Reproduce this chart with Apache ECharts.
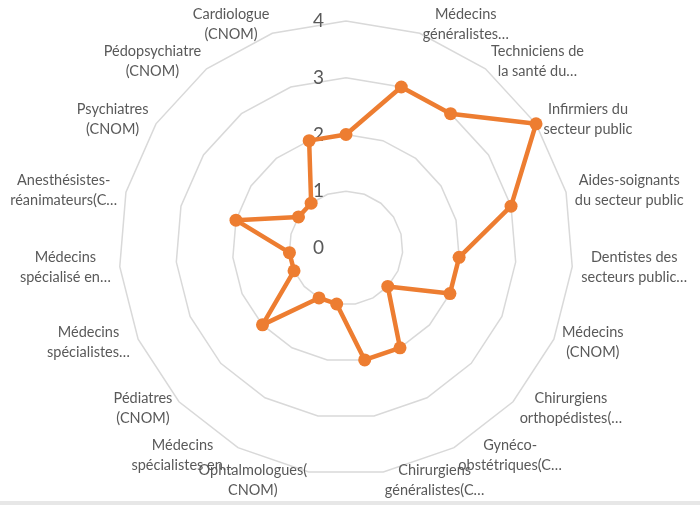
<!DOCTYPE html>
<html>
<head>
<meta charset="utf-8">
<script src="https://cdn.jsdelivr.net/npm/echarts@6/dist/echarts.min.js"></script>
<style>
  html, body { margin: 0; padding: 0; background: #ffffff; }
  #chart { width: 700px; height: 505px; }
</style>
</head>
<body>
<div id="chart"></div>
<script>
// Categories in clockwise order, starting from the top spoke
const categories = [
  '',
  'Médecins\ngénéralistes…',
  'Techniciens de\nla santé du…',
  'Infirmiers du\nsecteur public',
  'Aides-soignants\ndu secteur public',
  'Dentistes des\nsecteurs public…',
  'Médecins\n(CNOM)',
  'Chirurgiens\northopédistes(…',
  'Gynéco-\nobstétriques(C…',
  'Chirurgiens\ngénéralistes(C…',
  'Ophtalmologues(\nCNOM)',
  'Médecins\nspécialistes en…',
  'Pédiatres\n(CNOM)',
  'Médecins\nspécialistes…',
  'Médecins\nspécialisé en…',
  'Anesthésistes-\nréanimateurs(C…',
  'Psychiatres\n(CNOM)',
  'Pédopsychiatre\n(CNOM)',
  'Cardiologue\n(CNOM)'
];

// Score per category, same order as above
const values = [2, 3, 3, 4, 3, 2, 2, 1, 2, 2, 1, 1, 2, 1, 1, 2, 1, 1, 2];

// Radial scale
const axisMin = 0;
const axisMax = 4;
const tickStep = 1;

const labelFont = 'Lato, "Open Sans", sans-serif';

// ECharts lays indicators out counter-clockwise, so keep the first one on top
// and reverse the rest to read clockwise.
const order = [0].concat(categories.map((_, i) => i).slice(1).reverse());

const indicators = order.map((i, k) => {
  const ind = { name: categories[i], min: axisMin, max: axisMax };
  if (k === 0) {
    ind.axisLabel = {
      show: true,
      color: '#595959',
      fontSize: 19,
      fontFamily: labelFont,
      margin: 22
    };
  }
  return ind;
});
const seriesData = order.map(i => values[i]);

const chart = echarts.init(document.getElementById('chart'), null, { renderer: 'canvas' });

chart.setOption({
  backgroundColor: '#ffffff',
  animation: false,
  radar: {
    center: [346, 248],
    radius: 227,
    startAngle: 90,
    shape: 'polygon',
    splitNumber: (axisMax - axisMin) / tickStep,
    indicator: indicators,
    nameGap: 9,
    axisName: {
      // every line of a category name is centred within its block
      formatter: name => name ? name.split('\n').map(s => '{c|' + s + '}').join('\n') : '',
      rich: {
        c: {
          align: 'center',
          color: '#595959',
          fontSize: 14.5,
          lineHeight: 20,
          fontFamily: labelFont
        }
      },
      color: '#595959',
      fontSize: 14.5,
      lineHeight: 20,
      fontFamily: labelFont
    },
    axisLine: { show: false },
    axisTick: { show: false },
    splitArea: { show: false },
    splitLine: { lineStyle: { color: '#d9d9d9', width: 1.5 } }
  },
  graphic: [{
    type: 'rect',
    shape: { x: 0, y: 501, width: 700, height: 4 },
    style: { fill: '#e7e7e7' },
    silent: true
  }],
  series: [{
    type: 'radar',
    symbol: 'circle',
    symbolSize: 13,
    lineStyle: { color: '#ed7d31', width: 4.5 },
    itemStyle: { color: '#ed7d31' },
    data: [{ value: seriesData }]
  }]
});
</script>
</body>
</html>
